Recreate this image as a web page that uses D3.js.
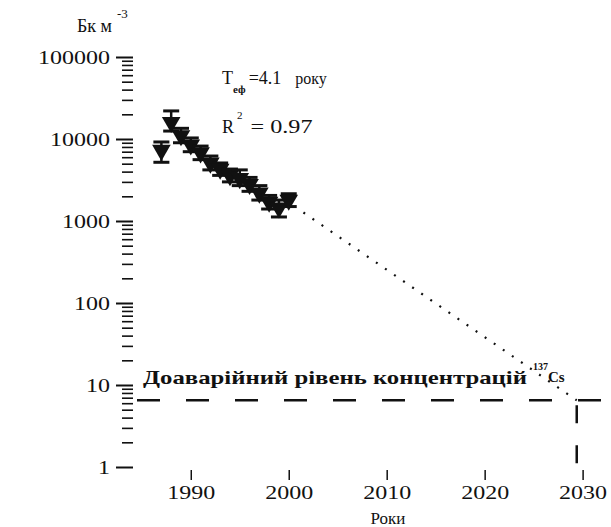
<!DOCTYPE html>
<html>
<head>
<meta charset="utf-8">
<style>
  body { margin: 0; background: #fff; }
  svg text { font-family: "Liberation Serif", "DejaVu Serif", serif; fill: #111; }
</style>
</head>
<body>
<div id="chart"></div>
<script src="https://cdn.jsdelivr.net/npm/d3@7/dist/d3.min.js"></script>
<script>

// measured concentrations, 1987-2000
var years  = [1987, 1988, 1989, 1990, 1991, 1992, 1993, 1994, 1995, 1996, 1997, 1998, 1999, 2000];
var values = [7300, 16000, 11000, 8500, 6800, 5100, 4300, 3600, 3300, 2800, 2200, 1700, 1450, 1800];
var lower  = [5200, 12500, 9000, 7000, 5600, 4200, 3600, 3000, 2700, 2300, 1800, 1400, 1120, 1500];
var upper  = [9200, 22000, 13500, 10300, 8200, 6200, 5100, 4300, 4200, 3400, 2700, 2050, 1800, 2150];

// extrapolated trend (dotted) and pre-accident level
var trendYears  = [2001.5, 2029.4];
var trendValues = [1270, 6.5];
var levelValue = 6.5;
var levelYear = 2029.4;

var xTicks = [1990, 2000, 2010, 2020, 2030];
var yMajor = [1, 10, 100, 1000, 10000, 100000];

var width = 611, height = 527;
var serif = '"Liberation Serif", "DejaVu Serif", serif';

var x = d3.scaleLinear().domain([1984, 2033]).range([132, 612]);
var y = d3.scaleLog().domain([1, 100000]).range([467, 57]);

var svg = d3.select('#chart').append('svg')
    .attr('width', width)
    .attr('height', height);

// y axis: long major ticks with labels, short minor ticks
var yMinor = y.ticks().filter(function(d) { return yMajor.indexOf(d) < 0; });

var gyMinor = svg.append('g')
    .attr('transform', 'translate(133,0)')
    .call(d3.axisLeft(y).tickValues(yMinor).tickSize(11).tickFormat(''));

var gyMajor = svg.append('g')
    .attr('transform', 'translate(133,0)')
    .call(d3.axisLeft(y).tickValues(yMajor).tickSize(17).tickPadding(6).tickFormat(d3.format('d')));

gyMinor.select('.domain').remove();
gyMinor.selectAll('.tick line').attr('stroke', '#111').attr('stroke-width', 1.6);
gyMajor.select('.domain').remove();
gyMajor.selectAll('.tick line').attr('stroke', '#111').attr('stroke-width', 2);
gyMajor.selectAll('text')
    .style('font-family', serif)
    .style('font-size', '19px')
    .attr('fill', '#111')
    .attr('textLength', function(d) { return String(d).length * 12; })
    .attr('lengthAdjust', 'spacingAndGlyphs');

// x axis: ticks only, no line
var gx = svg.append('g')
    .attr('transform', 'translate(0,470)')
    .call(d3.axisBottom(x).tickValues(xTicks).tickSize(10).tickPadding(6).tickFormat(d3.format('d')));
gx.select('.domain').remove();
gx.selectAll('.tick line').attr('stroke', '#111').attr('stroke-width', 1.5);
gx.selectAll('text')
    .style('font-family', serif)
    .style('font-size', '19px')
    .attr('fill', '#111')
    .attr('textLength', 48)
    .attr('lengthAdjust', 'spacingAndGlyphs');

// axis titles
var ylab = svg.append('text')
    .attr('x', 77).attr('y', 32)
    .style('font-size', '18px');
ylab.append('tspan').text('Бк м');
ylab.append('tspan').attr('dx', 5).attr('dy', -14).style('font-size', '13px').text('-3');

svg.append('text')
    .attr('x', 388).attr('y', 524)
    .attr('text-anchor', 'middle')
    .style('font-size', '17px')
    .text('Роки');

// pre-accident level, dashed
svg.append('line')
    .attr('x1', 137).attr('x2', width)
    .attr('y1', y(levelValue)).attr('y2', y(levelValue))
    .attr('stroke', '#111')
    .attr('stroke-width', 2.5)
    .attr('stroke-dasharray', '23,26');

svg.append('line')
    .attr('x1', x(levelYear)).attr('x2', x(levelYear))
    .attr('y1', y(levelValue) + 5).attr('y2', y(1))
    .attr('stroke', '#111')
    .attr('stroke-width', 2.5)
    .attr('stroke-dasharray', '18,22');

svg.append('text')
    .attr('x', 143).attr('y', 384)
    .style('font-size', '19px')
    .style('font-weight', 'bold')
    .attr('textLength', 384)
    .attr('lengthAdjust', 'spacingAndGlyphs')
    .text('Доаварійний рівень концентрацій');

var iso = svg.append('text').attr('x', 533).attr('y', 382).style('font-weight', 'bold');
iso.append('tspan').attr('dy', -12).style('font-size', '10px').text('137');
iso.append('tspan').attr('dy', 12).style('font-size', '15px').text('Cs');

// trend line, dotted
var trend = d3.line()
    .x(function(d) { return x(d[0]); })
    .y(function(d) { return y(d[1]); });

svg.append('path')
    .datum(d3.zip(trendYears, trendValues))
    .attr('d', trend)
    .attr('fill', 'none')
    .attr('stroke', '#111')
    .attr('stroke-width', 2.2)
    .attr('stroke-dasharray', '2,9');

// data points with error bars
var pts = svg.selectAll('.pt')
    .data(years.map(function(d, i) {
      return {year: d, v: values[i], lo: lower[i], hi: upper[i]};
    }))
    .enter().append('g')
    .attr('class', 'pt');

pts.append('line')
    .attr('x1', function(d) { return x(d.year); })
    .attr('x2', function(d) { return x(d.year); })
    .attr('y1', function(d) { return y(d.lo); })
    .attr('y2', function(d) { return y(d.hi); })
    .attr('stroke', '#111').attr('stroke-width', 2.5);

['lo', 'hi'].forEach(function(k) {
  pts.append('line')
      .attr('x1', function(d) { return x(d.year) - 8; })
      .attr('x2', function(d) { return x(d.year) + 8; })
      .attr('y1', function(d) { return y(d[k]); })
      .attr('y2', function(d) { return y(d[k]); })
      .attr('stroke', '#111').attr('stroke-width', 3);
});

pts.append('path')
    .attr('d', d3.symbol().type(d3.symbolTriangle).size(150))
    .attr('transform', function(d) { return 'translate(' + x(d.year) + ',' + y(d.v) + ') rotate(180)'; })
    .attr('fill', '#111');

// annotations
var t = svg.append('text').attr('x', 222).attr('y', 84).style('font-size', '18px');
t.append('tspan').text('T');
t.append('tspan').attr('dy', 9).style('font-size', '11px').style('font-weight', 'bold').text('еф');
t.append('tspan').attr('dy', -9).attr('dx', 3).text('=4.1');
t.append('tspan').attr('dx', 14).style('font-size', '16px').text('року');

var r = svg.append('text').attr('x', 222).attr('y', 133).style('font-size', '18px');
r.append('tspan').text('R');
r.append('tspan').attr('dy', -14).attr('dx', 3).style('font-size', '11px').text('2');
r.append('tspan').attr('dy', 14).attr('dx', 8).attr('textLength', 62).attr('lengthAdjust', 'spacingAndGlyphs').text('= 0.97');

</script>
</body>
</html>
